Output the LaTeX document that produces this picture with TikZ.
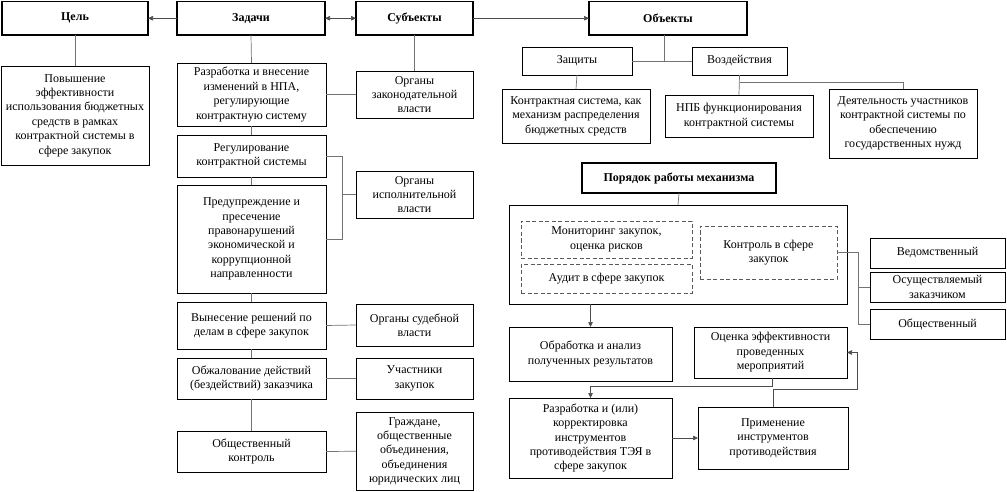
\documentclass[tikz,border=0pt]{standalone}
\usepackage{fontspec}
\setmainfont{Liberation Serif}
\newfontfamily\tnr{Liberation Serif}
\usetikzlibrary{arrows.meta,calc}
\newcommand{\bx}[7][]{\node[box,#1,minimum width={(#5-#3)*1pt},minimum height={(#6-#4)*1pt}] (#2) at ({(#3+#5)/2*1pt},{-(#4+#6)/2*1pt}) {#7};}
\tikzset{
  box/.style={draw=black, line width=0.8pt, inner sep=0pt, outer sep=0pt, align=center, font=\tnr\fontsize{12}{14.4}\selectfont},
  head/.style={line width=1.8pt, font=\tnr\fontsize{12}{14.4}\selectfont\bfseries},
  dbox/.style={dashed, dash pattern=on 4pt off 2.5pt, draw=black!65},
  con/.style={draw=black!55, line width=0.7pt},
  arr/.style={draw=black!70, line width=0.7pt, -{Triangle[length=5pt,width=4.5pt]}},
  darr/.style={draw=black!70, line width=0.7pt, {Triangle[length=5pt,width=4.5pt]}-{Triangle[length=5pt,width=4.5pt]}}
}
\begin{document}
\begin{tikzpicture}
\useasboundingbox (0,0) rectangle (1007pt,-492pt);
% headers
\bx[head]{cel}{2}{1.5}{148}{35}{Цель}
\bx[head]{zad}{177}{1.5}{325}{35}{Задачи}
\bx[head]{subj}{356}{1.5}{473}{35}{Субъекты}
\bx[head]{obj}{589}{1.5}{747}{35}{Объекты}
% goal
\bx{pov}{1}{66}{149}{165}{Повышение\\эффективности\\использования бюджетных\\средств в рамках\\контрактной системы в\\сфере закупок}
% tasks
\bx{t1}{177}{63}{326}{126}{Разработка и внесение\\изменений в НПА,\\регулирующие\\контрактную систему}
\bx{t2}{177}{135}{326}{177}{Регулирование\\контрактной системы}
\bx{t3}{177}{185}{326}{293}{Предупреждение и\\пресечение\\правонарушений\\экономической и\\коррупционной\\направленности}
\bx{t4}{177}{302}{326}{349}{Вынесение решений по\\делам в сфере закупок}
\bx{t5}{177}{358}{326}{399}{Обжалование действий\\(бездействий) заказчика}
\bx{t6}{177}{431}{326}{472}{Общественный\\контроль}
% subjects
\bx{s1}{356}{71}{473}{118}{Органы\\законодательной\\власти}
\bx{s2}{356}{171}{473}{218}{Органы\\исполнительной\\власти}
\bx{s3}{356}{304}{473}{346}{Органы судебной\\власти}
\bx{s4}{356}{358}{473}{399}{Участники\\закупок}
\bx[font=\tnr\fontsize{12}{14.2}\selectfont]{s5}{356}{412}{473}{490.5}{Граждане,\\общественные\\объединения,\\объединения\\юридических лиц}
% objects
\bx{zash}{522}{47}{632}{75}{Защиты}
\bx{vozd}{692}{47}{787}{75}{Воздействия}
\bx{o1}{502}{89}{650}{143}{Контрактная система, как\\механизм распределения\\бюджетных средств}
\bx{o2}{665}{95}{813}{137}{НПБ функционирования\\контрактной системы}
\bx{o3}{829}{89}{977}{158}{Деятельность участников\\контрактной системы по\\обеспечению\\государственных нужд}
% mechanism
\bx[head]{por}{582}{163}{776}{193}{Порядок работы механизма}
\bx{big}{509}{205}{847}{304}{}
\bx[dbox]{mon}{521}{221}{692}{258}{Мониторинг закупок,\\оценка рисков}
\bx[dbox]{aud}{521}{264}{692}{293}{Аудит в сфере закупок}
\bx[dbox]{kon}{700}{226}{837}{279}{Контроль в сфере\\закупок}
\bx{k1}{870}{238}{1005}{268}{Ведомственный}
\bx{k2}{870}{272}{1005}{302}{Осуществляемый\\заказчиком}
\bx{k3}{870}{309}{1005}{339}{Общественный}
\bx{obr}{509}{327}{672}{381}{Обработка и анализ\\полученных результатов}
\bx{oc}{694}{327}{847}{378}{Оценка эффективности\\проведенных\\мероприятий}
\bx{raz}{509}{398}{672}{478}{Разработка и (или)\\корректировка\\инструментов\\противодействия ТЭЯ в\\сфере закупок}
\bx{pri}{698}{407}{848}{469}{Применение\\инструментов\\противодействия}
% connectors top
\draw[arr] (zad.west) -- (cel.east);
\draw[darr] (zad.east) -- (subj.west);
\draw[arr] (subj.east) -- (obj.west);
\draw[con] (cel.south) -- (pov.north);
\draw[con] (zad.south) -- (t1.north);
\draw[con] (t1.south) -- (t2.north);
\draw[con] (t2.south) -- (t3.north);
\draw[con] (t3.south) -- (t4.north);
\draw[con] (t4.south) -- (t5.north);
\draw[con] (t5.south) -- (t6.north);
\draw[con] (subj.south) -- (s1.north);
\draw[con] (t1.east) -- (s1.west);
\draw[con] (t2.east) -- ++(16pt,0) coordinate (b1) |- (t3.east);
\draw[con] (b1 |- s2.west) -- (s2.west);
\draw[con] (t4.east) -- (s3.west);
\draw[con] (t5.east) -- (s4.west);
\draw[con] (t6.east) -- (s5.west);
% objects
\draw[con] ([xshift=-4pt]obj.south) -- ([xshift=-4pt]obj.south |- zash.east);
\draw[con] (zash.east) -- (vozd.west);
\draw[con] (zash.south) -- (o1.north);
\draw[con] (vozd.south) -- (o2.north);
\draw[con] ([yshift=-7pt]vozd.south) -| (o3.north);
% mechanism
\draw[con] (por.south) -- (big.north);
\draw[arr] (big.south -| obr.north) -- (obr.north);
\draw[con] (kon.east) -- ++(21pt,0) coordinate (b2) |- (k3.west);
\draw[con] (b2 |- k2.west) -- (k2.west);
\draw[arr] ([xshift=2pt]oc.south) -- ++(0,-8pt) -| (raz.north);
\draw[arr] (raz.east |- pri.west) -- (pri.west);
\draw[arr] (pri.north) -- ++(0,18pt) -| ([xshift=10pt]oc.east) -- (oc.east);
\end{tikzpicture}
\end{document}
